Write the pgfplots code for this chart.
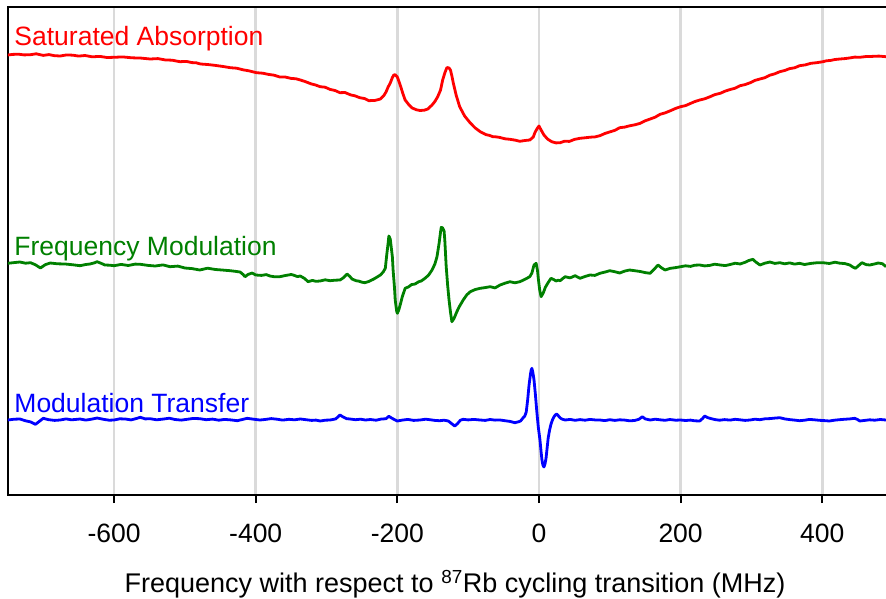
\documentclass[border=0pt]{standalone}
\usepackage{pgfplots}
\pgfplotsset{compat=1.18}
\usepackage{fontspec}
\setmainfont{Liberation Sans}

\definecolor{fmgreen}{RGB}{0,128,0}
\definecolor{gridgray}{RGB}{218,218,218}

% Saturated absorption trace (x in MHz, signal in arbitrary units)
\pgfplotstableread{
x y
-750 440
-743 440.6
-735 440.8
-727 440.1
-718 440.3
-710 441.2
-700 439.6
-692 440.4
-684 439.3
-676 439
-667 440.1
-658 439.8
-650 438.9
-641 439.5
-631 438.2
-620 438.6
-610 437.5
-600 437.7
-588 438.1
-575 437.2
-562 436.9
-549 436
-538 436.4
-528 435.1
-518 434.8
-507 433.3
-498 433.6
-490 432.4
-484 432.2
-478 431
-468 430.5
-457 429.6
-446 428.5
-436 427.3
-427 426.8
-418 425.2
-409 424.1
-399 422.3
-390 421.8
-382 420.6
-374 419.8
-366 418
-358 417.9
-350 416.6
-343 416.2
-337 415
-330 413.4
-322 411.2
-316 410.1
-309 408.3
-302 407.8
-295 405.6
-288 404.5
-281 402.3
-274 402.5
-266 400.1
-260 399.2
-253 397.3
-246 396.4
-240 394.2
-236 394.6
-232 394.5
-228 395.2
-224 396
-219 399.5
-216 403
-213 408
-210 412
-207 417.5
-205 420
-203 420.3
-200 418
-198 414
-196 410
-192 401
-189 395
-184 390.5
-179 387
-173 385.2
-168 384.5
-162 384.8
-157 386
-151 390
-147 393.5
-143 398.3
-139 405
-136 415
-133 422
-130 427.5
-127 427
-125 425
-123 419
-121 412
-117 400
-112 388.3
-105 379
-97 372
-90 367
-83 363.3
-75 360.4
-70 359.6
-65 358.3
-60 358.1
-55 357.5
-48 356.2
-41 355.7
-34 354.9
-27 353.7
-20 354.5
-13 355
-8 358
-6 362
-3 366
0 369
3 365
7 360
12 356
18 353.3
24 352.1
30 352.3
36 353.8
43 353.6
50 355.6
58 356.7
65 357.2
72 357.8
79 358.1
86 359.3
93 361.5
100 363.1
107 364.6
114 367.3
121 367.9
128 369.2
136 370.3
143 371.7
150 374.2
157 376
164 377.8
171 380.7
178 382.1
186 384.4
193 386.6
200 388.3
207 389.4
214 391.6
220 393.4
227 395
234 396.2
241 398.1
248 400.3
256 401.7
263 403.9
270 405.5
277 406.8
284 409.3
291 410.4
298 412.2
305 414.6
312 416
319 417.3
326 419.8
333 421.2
340 423.3
347 424.5
354 426.4
361 427.2
368 429.3
376 430.1
384 431.7
392 432.3
401 433.3
406 434.2
412 434.6
418 435.5
425 436
432 436.4
440 437.2
446 437.9
453 437.7
461 438.4
470 438.6
480 438.9
490 438.3
}\satabs

% Frequency modulation error signal
\pgfplotstableread{
x y
-750 231.7
-740 232.5
-733 233
-725 231.8
-718 232.3
-711 230.2
-704 227
-697 230.4
-690 232
-680 231.2
-669 231
-658 230.2
-648 229.3
-640 230.5
-634 231
-628 232.1
-624 233.3
-618 231.6
-613 230
-606 229.8
-600 229.3
-590 230.6
-580 229.5
-570 230.9
-563 230.7
-552 229.6
-542 229
-531 230.1
-521 228.3
-510 228.9
-500 227
-490 226.4
-479 225
-468 226.8
-457 225.5
-446 224.9
-436 224.3
-428 223.6
-422 223
-418 220.6
-415 218.3
-411 220.5
-405 222
-400 220
-392 219.6
-385 220.4
-380 219
-373 218.2
-366 218.3
-358 219.5
-350 220.5
-347 220
-341 218.4
-337 219
-331 216.5
-326 213.3
-320 214.6
-315 213.7
-309 214
-302 215.2
-295 214.3
-288 214.8
-281 215
-276 217.3
-271 221
-267 218.5
-264 216
-258 214.2
-255 214
-250 212.8
-246 212.3
-240 213.6
-234 215.7
-229 217.8
-224 220
-220 223
-217 226.7
-215 240
-213 252
-212 259
-210 256
-209 250
-207 238
-206 225
-204 207
-203 195
-201 184
-200 181.7
-198 185
-196 190
-193 198.3
-189 206.7
-184 208.2
-180 210.4
-175 211
-170 213.2
-166 214.1
-161 216.7
-156 219.8
-151 225
-147 231
-144 238.3
-141 252
-139 263
-138 267.7
-136 267
-134 264
-133 255
-131 228.3
-129 210
-127 195
-125 183
-123 173.3
-120 176.5
-116 183.3
-112 189
-107 195
-102 200.1
-97 203.3
-90 205.5
-83 206.7
-76 207.4
-69 208.3
-62 207.1
-55 210
-48 211.8
-41 213.3
-34 212.2
-27 213.3
-20 215.6
-13 218.3
-10 222
-7 230
-4 231.7
-2 224
-1 216.7
1 205
3 198.3
6 202
9 207.7
13 212.5
17 216.7
21 215.4
24 214
27 214.8
30 214.3
33 216.2
37 218.3
44 217.1
51 219.3
58 216.7
65 218.5
72 220
79 219.6
86 221.7
93 222.9
100 224.3
107 223.3
114 222
121 223.9
128 225
136 224.2
143 223.5
150 222.4
157 221.7
163 226
168 230
173 227.2
178 225
185 226.6
193 227.4
200 228.3
207 229.2
214 228.6
220 229.8
227 230
234 229.1
241 229.6
248 230.8
256 230
263 229.4
270 230.5
277 231.8
284 231
291 232.7
296 234.4
302 235.7
306 233.1
312 230
319 231.8
326 233
333 231.6
340 232.3
347 231.2
354 232.1
361 230.9
368 231.7
375 230.5
384 231.6
392 232.2
401 232.3
410 231.5
418 232.8
424 231.9
432 231.4
439 230
443 228
447 226.7
451 229.2
456 232.3
462 230.4
467 230
473 230.9
479 232
485 231.3
490 228.3
}\freqmod

% Modulation transfer error signal
\pgfplotstableread{
x y
-750 75
-741 75.8
-733 76
-725 74.2
-718 73.1
-711 70.7
-706 73.4
-700 76.7
-693 75.4
-684 74.6
-676 75
-668 76.1
-660 75.2
-648 76
-640 74.9
-632 75.8
-624 77
-615 75.7
-607 74.8
-600 75
-592 76.2
-584 76
-576 75.1
-569 76.4
-563 77.7
-556 76.1
-549 76.3
-540 75.2
-531 75.9
-522 76.8
-514 75.5
-505 74.9
-497 75.7
-488 76.6
-479 76.3
-470 75.3
-461 75.9
-452 74.8
-444 75.6
-435 75.1
-426 74.3
-419 75.5
-412 76.7
-404 75.9
-394 75
-386 75.6
-378 76.4
-370 75.8
-362 74.9
-353 75.7
-345 75.2
-337 76
-329 75.3
-321 74.6
-315 74.9
-309 74
-302 74.8
-295 75
-287 76.1
-281 80
-277 78.2
-272 76.4
-267 76
-259 75.3
-252 75.8
-245 75
-238 75.5
-230 74.8
-223 75.9
-216 76.3
-212 78.7
-207 76.5
-200 74
-193 74.9
-185 75.6
-177 74.6
-168 75
-160 75.8
-152 75.1
-146 74.5
-140 74.3
-134 74.8
-128 74
-123 71.2
-119 69
-115 71.4
-111 74.8
-107 75.7
-100 75.1
-92 75.6
-83 75
-76 74.6
-69 75.5
-62 74.9
-55 75
-48 74.3
-41 73.6
-34 72.3
-29 73.2
-26 74
-23 76.7
-20 79
-18 83
-16 95
-14 110
-12 121
-11 125
-10 126.7
-8.5 122
-7 115
-5 100
-3 83
-1 68
1.4 55
3 43
4.2 35
5.5 30
7 28
8.5 31
10 37
11.5 47
13 57
15 65
17 71
19 75
21 78
23 80
25 81
27 79.5
30 77
33 75.8
37 75
44 75.6
51 74.7
58 75.4
65 74.8
72 75.6
79 75.1
86 75
93 74.4
100 75.3
107 74.6
114 75.2
121 74.9
128 74.2
135 74.5
141 75.7
146 78.3
150 76.1
157 75
164 75.8
171 75.2
178 74.7
185 75.5
193 74.8
200 75
207 74.5
214 74.9
220 74.2
227 74
231 76.5
234 79
238 77.4
244 76.2
248 75.5
255 74.8
262 75.4
270 74.9
277 75.7
284 75.2
291 74.6
298 75
305 75.8
312 75.3
319 76.2
326 76.4
333 76.9
340 77.3
347 76.1
354 75.4
361 74.9
368 74.3
375 74.8
382 75.6
389 75.2
396 74.7
403 74.4
410 74
417 74.8
424 75.3
431 75.7
439 76.1
446 76.7
450 75.4
453 74
460 74.6
467 75.2
474 74.8
482 75.5
490 75
}\modtrans

\begin{document}
\fontsize{26.5bp}{32bp}\selectfont
\begin{tikzpicture}
\useasboundingbox (0,0) rectangle (886bp,-599bp);
\begin{axis}[
  at={(8bp,-7bp)}, anchor=north west,
  scale only axis,
  width=884bp, height=488bp,
  xmin=-749.8, xmax=498.5,
  ymin=0, ymax=488,
  axis line style={line width=2.6bp, black},
  xtick={-600,-400,-200,0,200,400},
  ytick=\empty,
  xtick pos=lower,
  tick align=outside,
  major tick length=8bp,
  every tick/.style={black, line width=2.2bp},
  xmajorgrids,
  major grid style={line width=2.5bp, gridgray},
  /pgf/number format/assume math mode=true,
  xticklabel style={font=\fontsize{26.5bp}{32bp}\selectfont, yshift=-12bp},
  clip=true,
  every axis plot/.append style={line width=2.8bp, line join=round},
]
\addplot[red, no marks] table {\satabs};
\addplot[fmgreen, no marks] table {\freqmod};
\addplot[blue, no marks] table {\modtrans};

\node[anchor=base west, inner sep=0pt, text=red] at (axis cs:-741,450) {Saturated Absorption};
\node[anchor=base west, inner sep=0pt, text=fmgreen] at (axis cs:-741,240) {Frequency Modulation};
\node[anchor=base west, inner sep=0pt, text=blue] at (axis cs:-741,82.3) {Modulation Transfer};
\end{axis}
\node[anchor=base, inner sep=0pt, font=\fontsize{27bp}{32bp}\selectfont] at (455bp,-592bp)
  {Frequency with respect to \textsuperscript{87}Rb cycling transition (MHz)};
\end{tikzpicture}
\end{document}
